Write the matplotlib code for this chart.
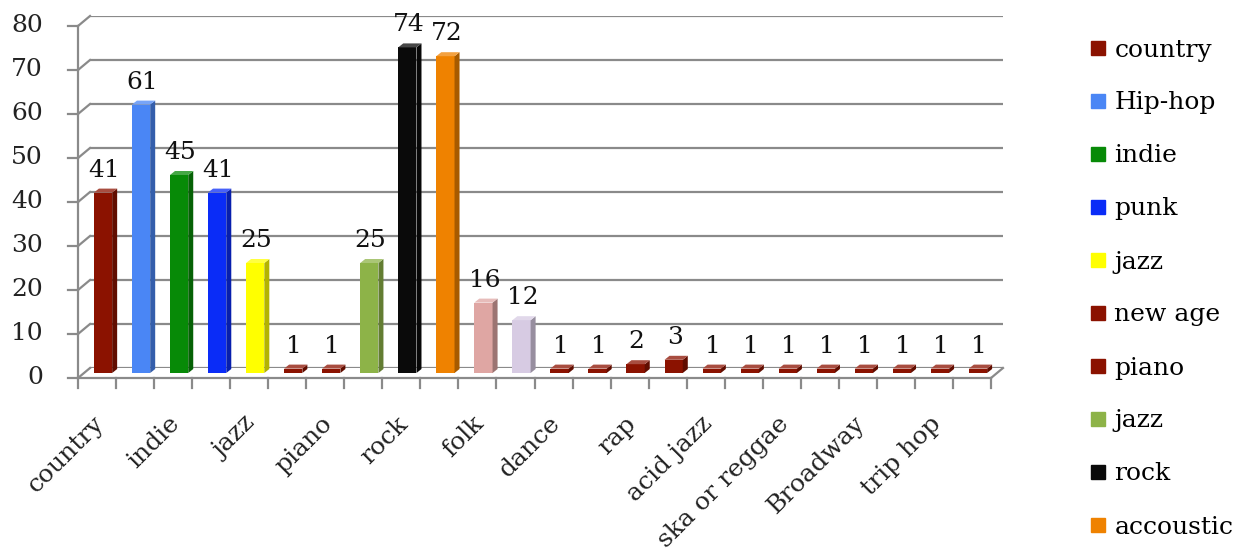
"""Genre counts, Excel-style 3D column chart."""
import numpy as np
import matplotlib.pyplot as plt
from matplotlib import transforms
from matplotlib.lines import Line2D
from matplotlib.patches import Polygon
from matplotlib.colors import to_rgb

categories = ["country", "Hip-hop", "indie", "punk", "jazz", "new age", "piano", "jazz",
              "rock", "accoustic", "folk", "", "dance", "", "rap", "", "acid jazz", "",
              "ska or reggae", "", "Broadway", "", "trip hop", ""]
counts = [41, 61, 45, 41, 25, 1, 1, 25, 74, 72, 16, 12, 1, 1, 2, 3, 1, 1, 1, 1, 1, 1, 1, 1]
DARK_RED = "#8b1200"
colors = [DARK_RED, "#4a86f5", "#078a07", "#0a2cf7", "#ffff00", DARK_RED, DARK_RED,
          "#8db348", "#0a0a0a", "#ef8200", "#dfa6a3", "#d7cbe3"] + [DARK_RED] * 12
yticks = list(range(0, 81, 10))
n_legend = 10

plt.rcParams["font.family"] = ["DejaVu Serif"]
FS = 18
GRID = "#8a8a8a"

DPI = 100
W, H = 1239, 550
fig = plt.figure(figsize=(W / DPI, H / DPI), dpi=DPI)

# back wall of the fake 3D box, in pixels from the top-left
left, right, bottom, top = 90, 1003, 368, 16
ax = fig.add_axes([left / W, 1 - bottom / H, (right - left) / W, (bottom - top) / H])
ax.set_xlim(-0.5, len(counts) - 0.5)
ax.set_ylim(0, 80)
ax.set_axis_off()

FRONT = (-12, -10)   # front plane offset (display px)
MID = (-6, -5)       # where the columns stand
DEPTH = (5, 4)       # column depth


def off(dx, dy):
    return ax.transData + transforms.ScaledTranslation(dx / DPI, dy / DPI, fig.dpi_scale_trans)


def px(x, y, d=(0, 0)):
    p = ax.transData.transform((x, y))
    return np.array([p[0] + d[0], p[1] + d[1]])


def seg(p0, p1, **kw):
    kw.setdefault("color", GRID)
    kw.setdefault("lw", 1.6)
    fig.add_artist(Line2D([p0[0], p1[0]], [p0[1], p1[1]],
                          transform=transforms.IdentityTransform(), **kw))


x0, x1 = -0.5, len(counts) - 0.5

# gridlines on back wall + slanted connectors + front axis
for v in yticks:
    ax.axhline(v, color=GRID, lw=1.6, zorder=1)
    seg(px(x0, v, FRONT), px(x0, v))
    seg(px(x0, v, FRONT), px(x0, v, (FRONT[0] - 10, FRONT[1])))
    ax.text(x0, v, str(v), transform=off(FRONT[0] - 35, FRONT[1]), ha="right",
            va="center", fontsize=FS, color="#222222")
seg(px(x0, 0, FRONT), px(x0, 80, FRONT))

# floor front edge, right slant and category ticks
seg(px(x0, 0, FRONT), px(x1, 0, FRONT))
seg(px(x1, 0, FRONT), px(x1, 0))
for k in range(len(counts) + 1):
    seg(px(k - 0.5, 0, FRONT), px(k - 0.5, 0, (FRONT[0], FRONT[1] - 10)))

# columns
x = np.arange(len(counts))
bw = 0.48
bars = ax.bar(x, counts, width=bw, color=colors, zorder=3, clip_on=False)
for b in bars:
    b.set_transform(off(*MID))

for xi, v, c in zip(x, counts, colors):
    rgb = np.array(to_rgb(c))
    br = px(xi + bw / 2, 0, MID)
    tr = px(xi + bw / 2, v, MID)
    tl = px(xi - bw / 2, v, MID)
    d = np.array(DEPTH)
    side = Polygon([br, tr, tr + d, br + d], closed=True, fc=rgb * 0.7, ec="none",
                   transform=transforms.IdentityTransform(), zorder=3)
    topf = Polygon([tl, tr, tr + d, tl + d], closed=True, fc=rgb * 0.75 + 0.25,
                   ec="none", transform=transforms.IdentityTransform(), zorder=3)
    fig.add_artist(side)
    fig.add_artist(topf)
    ax.text(xi, v, str(v), transform=off(MID[0] + 1, MID[1] + 16), ha="center",
            va="baseline", fontsize=FS, color="#111111", zorder=4)

# category labels, every other one
for i in range(0, len(categories), 2):
    ax.text(i, 0, categories[i], transform=off(FRONT[0] - 5, FRONT[1] - 34),
            rotation=45, rotation_mode="anchor", ha="right", va="top",
            fontsize=FS, color="#222222")

# legend: first ten categories
handles = [Line2D([], [], ls="none", marker="s", markersize=10, color=colors[i])
           for i in range(n_legend)]
fig.legend(handles, categories[:n_legend], loc="upper left",
           bbox_to_anchor=(1068 / W, 1 - 16 / H), frameon=False, fontsize=FS,
           handlelength=0.6, handletextpad=0.35, labelspacing=1.2)

fig.savefig("out.png", dpi=DPI)
